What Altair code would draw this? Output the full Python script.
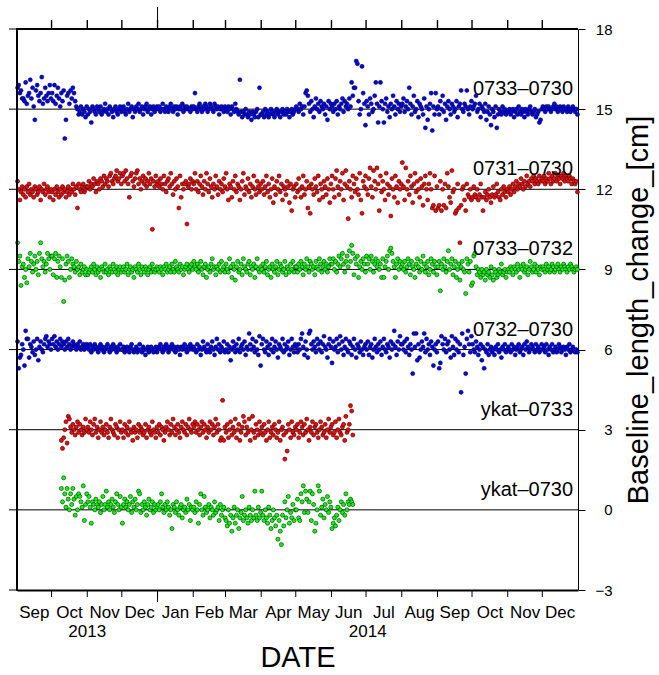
import calendar
import altair as alt
import pandas as pd

# ---------------- data ----------------
MONTHS = [(2013, 9), (2013, 10), (2013, 11), (2013, 12), (2014, 1), (2014, 2),
          (2014, 3), (2014, 4), (2014, 5), (2014, 6), (2014, 7), (2014, 8),
          (2014, 9), (2014, 10), (2014, 11), (2014, 12)]
MONTH_LABELS = ["Sep", "Oct", "Nov", "Dec", "Jan", "Feb", "Mar", "Apr", "May",
                "Jun", "Jul", "Aug", "Sep", "Oct", "Nov", "Dec"]
YEAR_LABELS = ["2013", "2014"]
Y_TICKS = [-3, 0, 3, 6, 9, 12, 15, 18]

SERIES_NAMES = ["0733–0730", "0731–0730", "0733–0732", "0732–0730", "ykat–0733", "ykat–0730"]
SERIES_BASE = [15, 12, 9, 6, 3, 0]
SERIES_COLOR = ["#0000ff", "#ff0000", "#00ff00", "#0000ff", "#ff0000", "#00ff00"]
SERIES_KEY = ["s1", "s2", "s3", "s4", "s5", "s6"]
# first month index and first day of each series
SERIES_START = [(0, 1), (0, 1), (0, 1), (0, 1), (1, 9), (1, 9)]

# daily deviations from the base level, in mm, one list per month
S1_0733_0730 = [
    [8, 9, 6, 7, 4, 4, 3, 10, 2, 5, 6, 11, 4, 8, 1, -4, 7, 9, 5, 3, 6, 12, 2, 4, 8, 5, 3, 6, 9, 4],
    [6, 3, 9, 2, 5, 8, 4, 1, 6, 3, 7, -11, -4, 5, 6, 2, 7, 4, 8, 6, 3, 1, 0, -2, -1, 1, -2, 0, -1, -3, 1],
    [-2, 0, -1, -5, 1, 0, -1, -2, 1, 0, -1, 1, -2, -1, 0, 2, -1, 0, -2, 1, 0, -1, -3, 0, 1, -1, -2, 0, 1, -1],
    [0, 1, -1, -2, 0, 2, -1, 0, 1, -3, 0, -1, 1, 0, 2, -1, 0, 1, -2, 0, 1, 2, -1, 0, 1, -2, 0, 1, -1, 0, 1],
    [0, 1, -1, 0, 2, 0, -1, 1, 0, -1, 1, 2, 0, -1, 1, 0, 1, -2, 0, 1, 0, 2, -1, 1, 0, 1, 0, 0, -1, 1, 0],
    [1, 6, 0, -1, 1, 2, 0, -1, 1, 0, 2, 1, -1, 0, 2, 1, 0, -1, 2, 1, 0, 1, -2, 0, 1, 0, -1, 1],
    [0, -1, 1, 0, -2, 1, 0, -1, 2, 0, -1, -2, 11, -1, -3, -1, -2, 0, -2, -3, -1, -2, -4, -1, -2, -3, -1, 0, -3, 8, -2],
    [-2, -1, -3, 0, -2, -1, -3, -2, 0, -1, -2, -3, -1, 0, -2, -1, -3, -1, 0, -2, -1, -2, 0, -1, -3, -1, 0, -2, -1, 0],
    [1, 0, -1, 2, 0, 1, -2, 1, 6, 7, 5, 2, -1, 3, 0, -3, 1, 4, 0, 2, -1, 3, 1, 0, 2, -2, 1, -4, 3, 0, 2],
    [1, -1, 2, 0, 3, -2, 1, 0, 2, 4, -1, 3, 1, 2, 0, 4, 1, 10, 5, 8, 8, 18, 17, 3, -2, 0, 16, 6, 2, -6],
    [3, 1, -2, 4, 2, -1, 0, 5, 10, 2, -5, 1, 10, 3, 0, -5, 2, 4, -1, 1, -3, 2, 0, 5, 1, -2, 3, 0, 2, -1, 1],
    [2, 4, -1, 1, 3, 0, 8, 2, -2, 1, 5, -1, 0, 3, -3, 2, 1, 0, -2, 4, -7, 1, -4, 0, 2, 6, -8, 1, -2, 6, 0],
    [1, -2, 3, 0, 5, -1, 2, -4, 1, 3, 0, -2, 2, 1, -1, 0, 3, -3, 1, 2, 7, 0, -1, 2, 1, 7, 0, -2, 1, 3],
    [0, 1, 2, 5, -1, 0, 2, -3, 1, 0, -1, 2, -4, -1, 1, -2, -6, 0, -1, -3, 1, -7, -2, 0, -1, -2, 1, -1, 0, -2, -1],
    [-1, 0, -2, -1, 0, -3, -1, 0, -2, 1, -1, -2, 0, -1, -3, 0, -1, -2, 0, 1, -1, -2, -1, 0, -3, -2, -1, -5, -4, 0],
    [1, 0, -1, 1, 0, 1, 0, -1, 0, 1, 2, 0, 1, -1, 0, 1, 0, -1, 1, 0, 0, -1, 1, 0, -1, 0, 1, 0, -1, 0, -2],
]
S2_0731_0730 = [
    [3, 0, -4, -1, 1, -2, 0, -3, 1, -1, 2, -2, 0, -1, -3, 1, 0, -2, -1, 1, -4, 0, -1, 2, -2, 0, 1, -1, -3, 0],
    [-1, -4, 0, -2, 1, -1, -3, 0, -2, 1, -1, 0, -3, -1, 1, -2, 0, -1, 2, 0, -2, 1, -7, 2, 0, -1, 1, 2, -1, 0, 1],
    [1, 3, 0, 2, 1, 4, 2, -1, 3, 2, 0, 4, 3, 1, 5, 2, 4, 3, 1, 5, 6, 3, 2, 4, 5, 7, 3, 4, 6, 2],
    [5, 6, 3, 7, 4, 2, -3, 5, 6, 3, 1, 4, 6, 7, 2, 4, 0, 3, 5, 2, 4, 1, 3, 6, 2, 4, -15, 3, 1, 5, 2],
    [3, 1, 4, 2, 0, 5, 2, -1, 3, 4, 1, 6, 2, -2, 3, 0, 4, 1, -7, 5, -3, 2, 0, 2, 3, -13, 1, 2, 4, 0, 3],
    [2, 6, 0, 3, -1, 2, 5, 1, -2, 3, 0, 6, 2, -1, 4, 1, -3, 2, 0, 5, 1, -2, 3, 0, 2, -1, 4, 1],
    [6, 0, -4, 2, 1, -3, 3, 0, 5, -1, 2, 1, -4, 0, 3, 6, -2, 1, 0, 4, -1, 2, -3, 1, 5, 0, -2, 3, 1, -1, 2],
    [0, 3, -2, 1, 5, -1, 2, -3, 0, 4, -5, 1, -2, 3, 0, 5, -1, 2, -4, 1, 0, -2, 3, 1, -5, 2, -8, 0, 1, -3],
    [2, -1, 4, 0, -3, 1, 5, -2, 0, 3, -7, 1, -9, 2, 0, -2, 4, 1, -1, 5, -4, 2, 0, -3, 3, 1, -2, 4, 0, -5, 2],
    [5, 0, -3, 4, 7, 1, -2, 3, 0, 6, -4, 2, 7, 1, -11, 3, 0, -3, 5, 2, -1, 4, 0, -2, 6, -4, -9, 3, 1, 5],
    [0, -2, 4, 8, 1, -3, 7, 3, 0, 8, 2, -8, 5, -1, 3, 0, -4, 6, 2, -2, 1, -10, 4, 0, -3, 5, 1, -5, 3, 0, 2],
    [10, 1, -4, 8, 0, 3, -2, 5, 1, -5, 2, 6, -1, 3, 0, -3, 4, 1, -6, 2, 5, 0, -4, 2, 6, 0, -7, -6, 5, -8, 1],
    [-7, -6, 3, -8, 0, -6, 2, -7, 6, 1, -3, -5, 7, -1, 0, -9, -8, 2, -7, -20, -6, 0, 1, -4, -8, 2, -2, -3, 0, -4],
    [-3, 1, -2, -3, 0, -4, -2, 2, -3, -8, -3, -1, -4, -2, 0, -3, -5, -2, 1, -3, -2, 2, -1, -3, -4, 0, -2, 1, -1, -3, 0],
    [-1, 1, -2, 0, 2, -1, 1, 3, 0, 2, 1, 4, 2, 0, 3, 1, 5, 2, 3, 1, 4, 3, 5, 2, 4, 3, 2, 5, 3, 4],
    [3, 5, 2, 4, 3, 6, 4, 2, 5, 3, 4, 6, 3, 5, 4, 2, 5, 4, 6, 3, 5, 4, 3, 5, 4, 2, 4, 3, 2, 3, -1],
]
S3_0733_0732 = [
    [10, 3, 5, -6, 1, 2, -3, 0, -5, 4, 1, 6, 3, -1, 2, 5, 0, 3, -2, 6, 10, 4, 1, 3, -1, 2, 6, 4, 0, 5],
    [5, -2, 4, 6, -3, 3, 5, 1, -3, 4, -12, -4, 2, 5, 3, -3, 0, 4, 2, 1, -1, 3, 0, 1, -2, 2, -1, 0, 1, -2, 0],
    [-2, -1, 0, 1, -1, 2, 0, -2, 1, -1, 0, -3, 1, 0, -1, 2, -1, 0, -2, 1, 0, -1, 2, 0, -1, 1, -2, 0, 1, -1],
    [0, 1, -1, 0, 2, -2, 0, 1, -1, 0, -3, 1, 0, -1, 2, 0, -2, 1, 0, -1, 1, 0, -2, 0, 1, -1, 2, 0, -1, 0, 1],
    [0, -1, 1, 0, -2, 1, 0, 2, -1, 0, 1, -1, 2, 0, -1, 3, 1, 0, -1, 2, 0, 1, -2, 0, 1, 2, 0, -1, 1, 2, 0],
    [3, 1, 0, 2, -1, 1, 3, 0, -2, 1, 2, -3, 0, 1, -1, 2, 4, 0, 1, -2, 1, 0, 2, -1, 3, 0, 1, -1],
    [2, 0, -1, 4, 1, -3, 2, 0, -4, 1, 3, -1, 0, 2, -2, 4, 1, 0, -1, 2, 3, -2, 1, 0, 2, -3, 1, 4, 0, -1, 1],
    [0, 2, -1, 1, 3, -2, 0, 1, -3, 2, 0, -1, 1, 3, -2, 0, 2, 1, -1, 0, 3, -2, 1, 0, -1, 2, 0, 3, -1, 1],
    [1, -1, 2, 0, 3, 1, -2, 2, 0, 4, 1, -1, 3, 2, 0, 1, -2, 3, 1, 0, 4, 2, -1, 1, 3, 0, 2, -1, 1, 4, 2],
    [2, 4, 0, 3, -1, 2, 5, 1, 4, 6, 2, -1, 3, 5, 1, 7, 3, 9, 6, -2, 4, 2, 5, -3, 1, 3, 0, 4, 2, -1],
    [5, 2, 4, 0, 5, 3, -1, 2, 4, 1, 3, 0, 2, -3, 4, -3, 1, 3, 5, 0, 7, 8, 6, 3, 1, -3, 2, 4, 0, 3, 1],
    [2, 0, 3, -1, 1, 4, 2, -2, 3, 1, 0, -3, 2, 4, 1, -1, 3, 0, 5, 2, -1, 1, 3, -2, 0, 4, 2, -1, 3, 1, -2],
    [1, 3, -8, 2, 0, 4, 1, -1, 3, 7, 0, 2, 4, -2, 1, 3, -3, 0, 2, -4, 1, 3, 0, -1, -9, 4, 2, -1, 3, -6],
    [-5, 5, 6, 1, -2, 0, -1, -3, 0, -2, -1, -4, 0, -2, -1, -3, 1, -2, -4, 0, -1, -3, -2, 0, -1, 2, -2, -1, 0, -3, -1],
    [0, -1, 1, 0, -2, 1, 0, -1, 2, 0, -3, 1, 0, 2, -1, 0, 1, -2, 0, 3, 1, -1, 0, 2, -1, 1, 0, -2, 1, 0],
    [1, 0, -1, 2, 0, 1, -1, 0, 2, 1, -1, 0, 1, 2, 0, -1, 1, 0, 2, 1, 0, -1, 1, 0, 2, 1, 0, -1, 0, 1, 0],
]
S4_0732_0730 = [
    [3, -7, -3, -2, 2, 0, -6, 7, 4, 4, -3, 2, 1, -1, 3, -2, 0, 4, -4, 1, 3, 0, -1, 2, 4, 5, 1, 3, 2, 0],
    [4, 2, 5, 1, 3, 0, 2, 4, 1, 3, 2, 0, 3, 1, 4, 2, 0, 1, 3, 2, 1, 0, 2, 1, 3, 0, 1, 2, 0, 1, 2],
    [1, 0, 2, -1, 1, 0, 2, 1, 0, -1, 1, 2, 0, 1, -1, 0, 1, 2, 0, -1, 1, 0, 2, 1, 0, -1, 1, 0, 2, 0],
    [0, 1, -1, 0, 1, 0, -1, 1, 2, 0, -1, 0, 1, -1, 0, 2, 0, -1, 1, 0, -2, 0, 1, -1, 0, 1, 0, -1, 0, 1, -1],
    [0, 1, 2, 0, -1, 1, 0, 2, 1, -1, 0, 1, 2, 0, 1, -1, 0, 1, 0, -2, 1, 0, 1, 2, 0, -1, 1, 0, 2, 1, 0],
    [1, 0, -1, 2, 0, 1, -2, 0, 3, 1, 0, -1, 2, 0, -1, 1, 3, 0, -2, 1, 4, 0, 2, -1, 1, 0, 3, -1],
    [0, 2, -1, 1, -4, 0, 3, 1, -1, 2, 0, 4, -1, 1, 2, 0, 3, -2, 1, 0, 6, 2, 0, 4, 1, -1, 3, 0, -2, 5, -6],
    [2, 4, 0, -1, 3, 1, -2, 2, 0, 4, -1, 1, 3, 0, -3, 2, 1, 0, 4, -1, 2, 0, 1, 3, -2, 0, 4, 1, -1, 2],
    [1, -1, 2, 0, 4, 6, 1, -2, 3, 0, -3, 6, 7, 2, 0, 3, 1, -1, 4, 2, 0, 3, -1, 2, 5, 1, 0, -3, 2, 4, 1],
    [-5, 3, 0, 1, 4, -1, 2, 5, 0, 3, -2, 1, 4, 0, -1, 3, 2, -2, 1, 4, 0, -3, 2, 1, -1, 3, 0, -2, 1, 2],
    [0, 3, -2, 1, 2, -3, 0, 4, 1, -1, 2, 0, 3, -2, 1, 4, 0, -1, 2, 1, -3, 3, 0, 2, 7, 1, -2, 3, 0, 5, 2],
    [2, 0, 3, -1, 4, 1, -2, 2, 0, -9, 6, 1, 6, -4, 2, -3, 0, 3, 1, 6, -1, 4, 0, 2, -2, 3, 1, -6, 0, 2, -1],
    [3, -7, -5, 5, 2, 0, 4, -1, 2, 3, 0, -3, 5, 1, -2, 4, 0, 3, -1, 2, -16, 6, -2, 1, -9, 4, 7, 2, -1, 5],
    [2, 0, -1, 3, 1, -2, 0, 2, -4, 1, -7, 0, -1, 2, -2, 0, 1, -1, 0, -2, 1, 0, 2, -1, 0, -3, 1, 0, 2, -1, 0],
    [1, 0, -1, 2, 0, 1, -2, 0, 1, 2, -1, 0, 1, -2, 2, 0, 3, 1, -1, 0, 2, 1, 0, -1, 2, 0, 1, -1, 0, 2],
    [0, 1, -1, 2, 0, -2, 1, 0, 2, -1, 0, 1, -1, 0, 2, 1, -1, 0, 1, 0, -2, 1, 0, 2, -1, 0, 1, 0, -1, 0, -1],
]
S5_YKAT_0733 = [
    [-4, -7, -3, 0, 3, -5, 5, 4, 1, -1, 2, 0, -2, 1, 3, -1, 2, 0, -2, 1, -1, 4, 0],
    [1, -1, 3, 0, -2, 2, 4, -1, 1, -3, 0, 3, -1, 1, -2, 0, 2, -1, -3, 1, 4, 0, -1, -2, 2, 1, -3, 0, 3, -1],
    [0, -3, 2, -1, 1, -2, 3, 0, -1, -4, 1, -1, 0, -3, 2, -1, 1, 0, -2, -1, 2, -3, 0, 1, -1, -2, 3, 0, -1, -3, 1],
    [-1, 2, -2, 1, 0, -4, -1, 1, 3, 0, -2, 2, -1, 4, 1, -2, 0, 2, -1, -3, 1, 3, 0, -1, 2, -2, 1, 4, 0, -1, 2],
    [1, 3, -1, 2, 0, -2, 1, 3, -1, 2, 0, -3, 1, -1, 3, 0, 2, -2, 1, 4, -1, 2, 0, -4, -3, 11, -4, 1],
    [-1, 2, -3, 0, 3, -2, 1, -1, 4, -3, 0, 2, -4, -1, 1, 5, 3, -2, 1, -1, 4, -4, 0, 5, -1, -3, 2, 0, -2, 3, -1],
    [1, -2, 2, -1, -4, 0, 3, -3, -1, 1, -2, 2, 0, -3, -1, 3, -4, 0, 1, -2, -11, -1, -8, 2, 0, -3, 3, -1, -2, 1],
    [0, 2, -3, -1, 3, 1, -2, 2, -1, 4, 0, -4, 1, -1, 3, -2, 1, 2, -1, -3, 0, 3, 1, -2, -1, 2, -3, 0, 4, -1, 1],
    [2, -2, -1, 3, -3, 0, 4, -1, -2, 1, 2, -4, 5, -1, 0, 2, 9, 7, -2],
]
S6_YKAT_0730 = [
    [8, 3, 12, 6, 1, 8, 4, 0, 6, 2, 8, 4, -2, 5, 0, 6, 5, 3, 1, 9, -4, 2, 6],
    [3, 5, 1, -5, 3, 2, 0, 4, 2, 1, 3, -1, 2, 5, 0, 2, 7, 1, 3, 0, 2, 4, 1, -1, 3, 6, 2, 0, 5, 1],
    [-5, 2, 4, 1, 3, 0, 2, 5, -1, 3, 1, 4, 0, 2, 7, 6, -1, 2, 0, 3, 1, -2, 2, 4, 0, 1, 3, -1, 2, 0, 1],
    [2, 0, 3, 6, 1, -1, 2, 0, 3, 1, -2, 0, -7, 2, 1, -1, 3, 0, -2, 1, 2, -3, 0, 1, -1, 4, 0, 2, -4, 1, 0],
    [1, -1, 3, 0, -5, 2, 6, 0, -2, 5, 1, -1, 0, 2, -3, 1, 0, -2, 3, -1, 0, 1, -4, 2, -2, 0, 1, -3],
    [-4, -6, 0, -5, -2, -8, -3, 1, -5, -2, 0, -7, -3, -1, 5, -4, -2, 0, -3, -5, 1, -2, -4, 0, -3, 7, -2, -4, 1, -3, -1],
    [7, -2, -4, 0, -3, -5, 1, -2, -7, -4, 0, -3, -6, -2, -11, -4, -8, -13, -2, -6, 3, -3, 0, 5, -5, -1, -3, 2, -4, 0],
    [0, 4, -3, -4, 6, 3, 9, -1, 7, 4, -1, 3, 7, -4, 6, 2, -8, -5, 0, 9, 7, -2, 1, 4, -3, 2, 0, 5, -1, 3, 1],
    [-7, -5, -3, -6, -2, 1, -4, 0, 3, -1, 2, -2, 6, 0, 3, 2, 4, 3, 2],
]
SERIES_VALUES = [S1_0733_0730, S2_0731_0730, S3_0733_0732, S4_0732_0730, S5_YKAT_0733, S6_YKAT_0730]

# ---------------- build tables ----------------
rows = []
for key, name, base, vals, (m0, d0) in zip(SERIES_KEY, SERIES_NAMES, SERIES_BASE, SERIES_VALUES, SERIES_START):
    for k, month_vals in enumerate(vals):
        y, m = MONTHS[m0 + k]
        nd = calendar.monthrange(y, m)[1]
        first = d0 if k == 0 else 1
        for i, v in enumerate(month_vals):
            day = first + i
            if v is None or day > nd:
                continue
            rows.append({"date": f"{y:04d}-{m:02d}-{day:02d}T12:00:00",
                         "value": base + v / 10.0, "series": key})
points = pd.DataFrame(rows)

W, H = 561, 561
month_starts = [pd.Timestamp(y, m, 1) for (y, m) in MONTHS] + [pd.Timestamp(2015, 1, 1)]
month_mid = [(month_starts[i] + (month_starts[i + 1] - month_starts[i]) / 2) for i in range(len(MONTHS))]
months_df = pd.DataFrame({"date": [t.strftime("%Y-%m-%dT%H:%M:%S") for t in month_mid],
                          "label": MONTH_LABELS})
year_bounds = [(pd.Timestamp(2013, 9, 1), pd.Timestamp(2014, 1, 1)),
               (pd.Timestamp(2014, 1, 1), pd.Timestamp(2015, 1, 1))]
years_df = pd.DataFrame({"date": [(a + (b - a) / 2).strftime("%Y-%m-%dT%H:%M:%S") for a, b in year_bounds],
                         "label": YEAR_LABELS})
ticks_df = pd.DataFrame({"tdate": [t.strftime("%Y-%m-%dT%H:%M:%S") for t in month_starts[1:-1]]})
top_ticks_df = pd.DataFrame({"udate": [t.strftime("%Y-%m-%dT%H:%M:%S") for t in month_starts[1:-1]]})
year_tick_df = pd.DataFrame({"ydate": ["2014-01-01T00:00:00"]})
labels_df = pd.DataFrame({"label": SERIES_NAMES, "pos": [b + 0.75 for b in SERIES_BASE]})
lines_df = pd.DataFrame({"base": SERIES_BASE})
yticks_df = pd.DataFrame({"v": Y_TICKS})

# ---------------- chart ----------------
FONT = "Liberation Sans"
xscale = alt.Scale(domain=[alt.DateTime(year=2013, month=9, date=1),
                           alt.DateTime(year=2015, month=1, date=1)], nice=False)
yscale = alt.Scale(domain=[-3, 18], nice=False, zero=False)

bottom_axis = alt.Axis(orient="bottom", labels=False, ticks=False, grid=False,
                       domainColor="black", domainWidth=2,
                       title="DATE", titleFont=FONT, titleFontSize=29, titleFontWeight="normal",
                       titleColor="black", titlePadding=53)
right_axis = alt.Axis(orient="right", values=Y_TICKS, grid=False, format="d",
                      tickSize=7, tickColor="black", tickWidth=1,
                      domainColor="black", domainWidth=1,
                      labelFont=FONT, labelFontSize=15, labelColor="black",
                      labelAlign="right", labelPadding=27,
                      title="Baseline_length_change_[cm]", titleFont=FONT, titleFontSize=29,
                      titleFontWeight="normal", titleColor="black", titleAngle=270,
                      titleBaseline="top", titlePadding=12)

# only the points layer defines the (shared) axes; other layers leave them unset
hlines = alt.Chart(lines_df).mark_rule(color="black", strokeWidth=1).encode(
    y=alt.Y("base:Q", scale=yscale))

pts = alt.Chart(points).mark_circle(size=17, stroke="black", strokeWidth=0.5, opacity=1).encode(
    x=alt.X("date:T", scale=xscale, axis=bottom_axis),
    y=alt.Y("value:Q", scale=yscale, axis=right_axis),
    color=alt.Color("series:N", scale=alt.Scale(domain=SERIES_KEY, range=SERIES_COLOR), legend=None),
)

series_labels = alt.Chart(labels_df).mark_text(
    font=FONT, fontSize=20, align="right", baseline="middle", color="black").encode(
    x=alt.value(W - 5),
    y=alt.Y("pos:Q", scale=yscale),
    text="label:N",
)

month_text = alt.Chart(months_df).mark_text(
    font=FONT, fontSize=17, align="center", baseline="middle", color="black").encode(
    x=alt.X("date:T", scale=xscale),
    y=alt.value(H + 23),
    text="label:N",
)

year_text = alt.Chart(years_df).mark_text(
    font=FONT, fontSize=17, align="center", baseline="middle", color="black").encode(
    x=alt.X("date:T", scale=xscale),
    y=alt.value(H + 42),
    text="label:N",
)

frame_top = alt.Chart(lines_df).mark_rule(color="black", strokeWidth=1).encode(
    y=alt.value(0), x=alt.value(0), x2=alt.value(W))
frame_left = alt.Chart(lines_df).mark_rule(color="black", strokeWidth=2).encode(
    x=alt.value(0), y=alt.value(-1), y2=alt.value(H + 1))

tick_bottom = alt.Chart(ticks_df).mark_rule(color="black", strokeWidth=1).encode(
    x=alt.X("tdate:T", scale=xscale), y=alt.value(H), y2=alt.value(H + 7))
tick_top = alt.Chart(top_ticks_df).mark_rule(color="black", strokeWidth=1.4).encode(
    x=alt.X("udate:T", scale=xscale), y=alt.value(-9), y2=alt.value(0))
year_tick_top = alt.Chart(year_tick_df).mark_rule(color="black", strokeWidth=1).encode(
    x=alt.X("ydate:T", scale=xscale), y=alt.value(-22), y2=alt.value(0))
year_tick_bottom = alt.Chart(year_tick_df).mark_rule(color="black", strokeWidth=1).encode(
    x=alt.X("ydate:T", scale=xscale), y=alt.value(H), y2=alt.value(H + 12))
tick_left = alt.Chart(yticks_df).mark_rule(color="black", strokeWidth=1).encode(
    y=alt.Y("v:Q", scale=yscale), x=alt.value(-8), x2=alt.value(0))

chart = alt.layer(
    hlines, pts, series_labels, month_text, year_text, frame_top, frame_left,
    tick_bottom, year_tick_top, year_tick_bottom, tick_left, tick_top
).properties(
    width=W, height=H,
    autosize=alt.AutoSizeParams(type="none"),
    padding={"left": 17, "top": 29, "right": 81, "bottom": 85},
    background="white",
).configure_view(stroke=None)

chart.save("out.html", embed_options={"renderer": "svg", "actions": False})
